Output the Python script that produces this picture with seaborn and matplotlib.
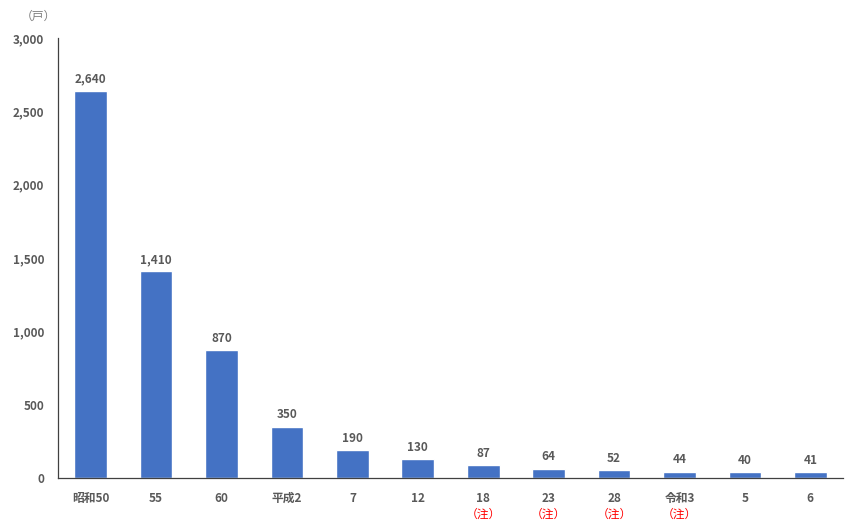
import matplotlib
matplotlib.use("Agg")
import matplotlib.pyplot as plt
import seaborn as sns
import pandas as pd
from matplotlib.ticker import FixedLocator, FuncFormatter
from matplotlib.transforms import blended_transform_factory

categories = ["昭和50", "55", "60", "平成2", "7", "12", "18", "23", "28", "令和3", "5", "6"]
households = [2640, 1410, 870, 350, 190, 130, 87, 64, 52, 44, 40, 41]
noted = [False, False, False, False, False, False, True, True, True, True, False, False]
yticks = [0, 500, 1000, 1500, 2000, 2500, 3000]

sns.set_theme(style="white")
plt.rcParams["font.family"] = ["Noto Sans CJK JP", "DejaVu Sans"]

text_color = "#595959"
bar_color = "#4472C4"

df = pd.DataFrame({"year": categories, "value": households})

fig = plt.figure(figsize=(8.58, 5.27), dpi=100)
ax = fig.add_axes([0.0676, 0.093, 0.915, 0.835])

sns.barplot(data=df, x="year", y="value", color=bar_color, width=0.5,
            saturation=1, ax=ax)

ax.set_ylim(0, 3000)
ax.set_xlim(-0.5, len(categories) - 0.5)
ax.set_yticks(yticks)
ax.yaxis.set_major_formatter(FuncFormatter(lambda v, p: f"{int(v):,}"))
ax.set_xlabel("")
ax.set_ylabel("")

for s in ["top", "right"]:
    ax.spines[s].set_visible(False)
for s in ["left", "bottom"]:
    ax.spines[s].set_color("#404040")
    ax.spines[s].set_linewidth(0.9)

ax.tick_params(axis="y", direction="in", length=4, width=0.9, color="#404040",
               labelsize=8.5, labelcolor=text_color, pad=10)
ax.tick_params(axis="x", which="major", length=0, labelsize=8.5,
               labelcolor=text_color, pad=10)
ax.xaxis.set_minor_locator(FixedLocator([i + 0.5 for i in range(len(categories))]))
ax.tick_params(axis="x", which="minor", direction="in", length=4, width=0.9,
               color="#404040")
for lbl in ax.get_xticklabels() + ax.get_yticklabels():
    lbl.set_fontweight("bold")

for i, v in enumerate(households):
    ax.text(i, v + 3000 * 0.012, f"{v:,}", ha="center", va="bottom",
            fontsize=8.5, fontweight="bold", color=text_color)

trans = blended_transform_factory(ax.transData, ax.transAxes)
for i, flag in enumerate(noted):
    if flag:
        ax.text(i, -0.068, "（注）", ha="center", va="top", fontsize=8.5,
                color="#FF0000", transform=trans)

fig.text(38 / 858, 1 - 16 / 527, "（戸）", ha="center", va="center",
         fontsize=8.5, color="#7F7F7F")

fig.savefig("out.png", dpi=100)
